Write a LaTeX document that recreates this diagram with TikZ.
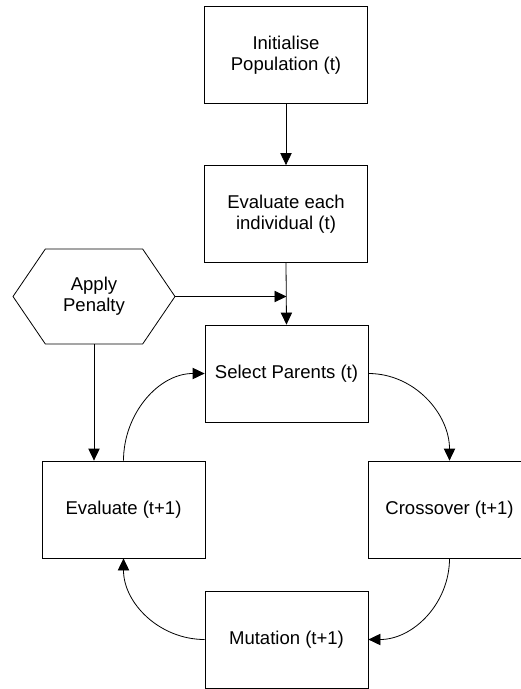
\documentclass[tikz,border=0pt]{standalone}
\usepackage{fontspec}
\setmainfont{Liberation Sans}
\usepackage{tikz}
\usetikzlibrary{shapes,shapes.symbols,arrows,arrows.meta,positioning,calc}
\tikzset{
    block/.style={rectangle, draw, fill=white, align=center, minimum width=122.25pt, minimum height=72.75pt, inner sep=2pt, line width=0.6pt},
    hexa/.style={signal, signal to=west and east, signal pointer angle=111.5, draw, align=center, minimum width=121.5pt, minimum height=71.25pt, inner sep=0pt, line width=0.6pt},
    line/.style={draw, line width=0.6pt, -{Triangle[length=9pt,width=8.5pt]}}
}

\begin{document}
\begin{tikzpicture}[x=0.75pt, y=-0.75pt, font=\fontsize{13.9}{16}\selectfont]
    \useasboundingbox (0,0) rectangle (521,689);

    % Main column
    \node[block] (init) at (286,55) {Initialise\\Population (t)};
    \node[block] (evaleach) at (286,214) {Evaluate each\\individual (t)};
    \node[block] (select) at (286.5,373.5) {Select Parents (t)};

    % Loop
    \node[block] (evalnext) at (123.5,509.5) {Evaluate (t+1)};
    \node[block] (cross) at (449.5,509.5) {Crossover (t+1)};
    \node[block] (mut) at (286.5,639.5) {Mutation (t+1)};

    % Penalty
    \node[hexa] (penalty) at (94,296.5) {Apply\\Penalty};

    \coordinate (join) at (penalty.east -| select.north);
    \coordinate (drop) at (penalty.south |- evalnext.north);

    \draw[line] (init.south) -- (evaleach.north);
    \draw[line] (evaleach.south) -- (select.north);
    \draw[line] (penalty.east) -- (join);
    \draw[line] (penalty.south) -- (drop);

    \draw[line] (evalnext.north) to[out=90, in=180] (select.west);
    \draw[line] (select.east) to[out=0, in=90] (cross.north);
    \draw[line] (cross.south) to[out=-90, in=0] (mut.east);
    \draw[line] (mut.west) to[out=180, in=-90] (evalnext.south);
\end{tikzpicture}
\end{document}
